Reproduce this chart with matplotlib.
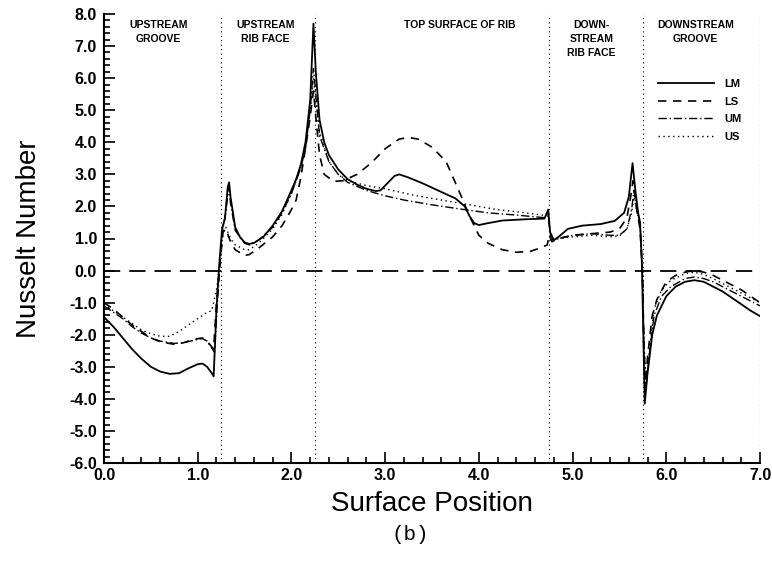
import matplotlib
matplotlib.use("Agg")
import matplotlib.pyplot as plt
from matplotlib.ticker import MultipleLocator, FormatStrFormatter

plt.rcParams['font.family'] = ['Liberation Sans', 'DejaVu Sans']
plt.rcParams['axes.unicode_minus'] = False

# Region boundaries and labels
boundaries = [1.25, 2.25, 4.75, 5.75, 7.0]
region_names = ["UPSTREAM\nGROOVE", "UPSTREAM\nRIB FACE", "TOP SURFACE OF RIB",
                "DOWN-\nSTREAM\nRIB FACE", "DOWNSTREAM\nGROOVE"]
region_centres = [0.58, 1.72, 3.8, 5.2, 6.31]

# LM (solid)
lm_x = [0.0, 0.1, 0.2, 0.3, 0.4, 0.5, 0.6, 0.7, 0.8, 0.9, 1.0, 1.05, 1.1, 1.15, 1.17,
        1.2, 1.23, 1.26, 1.29, 1.32, 1.335, 1.35, 1.4, 1.45, 1.5, 1.55, 1.6, 1.7, 1.8,
        1.9, 2.0, 2.05, 2.1, 2.15, 2.2, 2.235, 2.26, 2.3, 2.35, 2.4, 2.5, 2.6, 2.7, 2.8,
        2.9, 2.95, 3.0, 3.1, 3.15, 3.25, 3.4, 3.6, 3.75, 3.85, 3.9, 3.95, 4.0, 4.1, 4.25,
        4.5, 4.7, 4.74, 4.76, 4.8, 4.85, 4.95, 5.1, 5.3, 5.45, 5.55, 5.6, 5.64, 5.67,
        5.7, 5.72, 5.74, 5.755, 5.77, 5.8, 5.85, 5.9, 6.0, 6.1, 6.2, 6.3, 6.4, 6.5, 6.6,
        6.7, 6.8, 6.9, 7.0]
lm_y = [-1.45, -1.75, -2.1, -2.45, -2.75, -3.0, -3.15, -3.22, -3.2, -3.05, -2.92, -2.9,
        -3.0, -3.2, -3.3, -1.2, 0.2, 1.3, 1.6, 2.6, 2.75, 2.3, 1.35, 1.05, 0.88, 0.83,
        0.86, 1.05, 1.4, 1.85, 2.5, 2.85, 3.3, 4.0, 5.3, 7.7, 6.2, 4.7, 4.0, 3.6, 3.15,
        2.85, 2.68, 2.55, 2.48, 2.5, 2.65, 2.95, 3.0, 2.9, 2.72, 2.45, 2.25, 2.0, 1.7,
        1.48, 1.42, 1.48, 1.56, 1.6, 1.62, 1.9, 1.2, 0.95, 1.05, 1.3, 1.4, 1.45, 1.55,
        1.8, 2.3, 3.35, 2.5, 1.8, 1.5, 0.2, -2.0, -4.15, -3.2, -2.0, -1.4, -0.8, -0.5,
        -0.35, -0.3, -0.35, -0.5, -0.65, -0.85, -1.05, -1.25, -1.42]

# LS (dashed)
ls_x = [0.0, 0.1, 0.2, 0.3, 0.4, 0.5, 0.6, 0.75, 0.85, 0.95, 1.05, 1.1, 1.17, 1.2, 1.24,
        1.27, 1.3, 1.35, 1.4, 1.5, 1.55, 1.65, 1.8, 1.9, 2.0, 2.05, 2.1, 2.16, 2.2, 2.235,
        2.26, 2.3, 2.35, 2.45, 2.55, 2.7, 2.85, 3.0, 3.15, 3.25, 3.35, 3.5, 3.65, 3.8,
        3.9, 4.0, 4.1, 4.25, 4.4, 4.55, 4.65, 4.73, 4.75, 4.78, 4.85, 5.0, 5.2, 5.4, 5.5,
        5.58, 5.62, 5.645, 5.68, 5.72, 5.745, 5.76, 5.775, 5.8, 5.85, 5.9, 6.0, 6.1, 6.2,
        6.3, 6.4, 6.5, 6.6, 6.7, 6.8, 6.9, 7.0]
ls_y = [-1.0, -1.2, -1.45, -1.7, -1.9, -2.1, -2.22, -2.3, -2.25, -2.15, -2.1, -2.2, -2.45,
        -1.0, 0.3, 1.2, 1.3, 0.9, 0.65, 0.47, 0.5, 0.7, 1.05, 1.4, 1.9, 2.2, 2.9, 4.0,
        4.8, 5.6, 4.8, 3.6, 3.0, 2.78, 2.8, 3.0, 3.35, 3.8, 4.1, 4.15, 4.1, 3.85, 3.4,
        2.4, 1.7, 1.1, 0.85, 0.65, 0.57, 0.6, 0.7, 0.8, 1.1, 0.9, 1.0, 1.1, 1.15, 1.2,
        1.3, 1.65, 2.3, 2.8, 2.0, 1.3, 0.0, -2.5, -3.7, -2.7, -1.4, -0.9, -0.35, -0.15,
        -0.05, 0.0, -0.05, -0.15, -0.3, -0.45, -0.6, -0.8, -1.0]

# UM (dash-dot)
um_x = [0.0, 0.1, 0.2, 0.3, 0.4, 0.5, 0.6, 0.75, 0.85, 0.95, 1.05, 1.1, 1.18, 1.21, 1.24,
        1.27, 1.3, 1.33, 1.35, 1.4, 1.5, 1.55, 1.65, 1.8, 1.9, 2.0, 2.1, 2.15, 2.2, 2.235,
        2.26, 2.3, 2.4, 2.5, 2.6, 2.8, 3.0, 3.2, 3.5, 3.8, 4.1, 4.4, 4.7, 4.74, 4.77,
        4.85, 5.0, 5.2, 5.4, 5.5, 5.58, 5.63, 5.655, 5.69, 5.72, 5.745, 5.765, 5.785,
        5.82, 5.87, 5.95, 6.05, 6.2, 6.3, 6.4, 6.5, 6.6, 6.7, 6.8, 6.9, 7.0]
um_y = [-1.1, -1.3, -1.5, -1.75, -1.95, -2.1, -2.2, -2.27, -2.25, -2.18, -2.12, -2.2,
        -2.55, -1.0, 0.3, 1.4, 1.8, 2.6, 2.1, 1.25, 0.85, 0.8, 0.95, 1.35, 1.8, 2.4, 3.2,
        3.8, 5.0, 6.3, 5.5, 4.2, 3.4, 3.0, 2.75, 2.5, 2.33, 2.2, 2.05, 1.92, 1.8, 1.73,
        1.65, 1.7, 0.95, 1.0, 1.1, 1.15, 1.1, 1.1, 1.3, 1.9, 2.5, 1.8, 1.4, 0.0, -2.5,
        -3.6, -2.6, -1.4, -0.8, -0.5, -0.25, -0.2, -0.25, -0.35, -0.5, -0.65, -0.8,
        -0.95, -1.1]

# US (dotted)
us_x = [0.0, 0.1, 0.2, 0.3, 0.4, 0.5, 0.6, 0.7, 0.8, 0.9, 1.0, 1.1, 1.15, 1.2, 1.24,
        1.27, 1.3, 1.35, 1.4, 1.5, 1.55, 1.65, 1.8, 1.9, 2.0, 2.1, 2.15, 2.2, 2.235, 2.26,
        2.3, 2.4, 2.5, 2.6, 2.8, 3.0, 3.3, 3.6, 3.9, 4.2, 4.5, 4.7, 4.74, 4.77, 4.85,
        5.0, 5.2, 5.4, 5.5, 5.58, 5.63, 5.655, 5.69, 5.72, 5.745, 5.765, 5.785, 5.82,
        5.87, 5.95, 6.05, 6.2, 6.3, 6.4, 6.5, 6.6, 6.7, 6.8, 6.9, 7.0]
us_y = [-1.05, -1.25, -1.45, -1.65, -1.85, -1.97, -2.05, -2.05, -1.9, -1.7, -1.5, -1.3,
        -1.25, -0.6, 0.3, 1.2, 1.35, 1.0, 0.8, 0.65, 0.65, 0.85, 1.3, 1.75, 2.4, 3.2,
        3.9, 5.0, 6.0, 5.3, 4.3, 3.4, 3.0, 2.8, 2.65, 2.55, 2.35, 2.2, 2.05, 1.9, 1.8,
        1.72, 1.75, 0.95, 1.0, 1.05, 1.1, 1.05, 1.08, 1.3, 1.8, 2.3, 1.8, 1.5, 0.0,
        -2.5, -3.5, -2.5, -1.2, -0.6, -0.3, -0.1, -0.05, -0.12, -0.25, -0.4, -0.55,
        -0.7, -0.85, -1.0]

fig = plt.figure(figsize=(7.72, 5.68), dpi=100)
ax = fig.add_axes([104 / 772, 1 - 463 / 568, (760 - 104) / 772, (463 - 14) / 568])

ax.plot(lm_x, lm_y, color='black', lw=1.3, ls='-', label='LM')
ax.plot(ls_x, ls_y, color='black', lw=1.2, ls=(0, (5, 4)), label='LS')
ax.plot(um_x, um_y, color='black', lw=1.0, ls=(0, (6, 2, 1, 2)), label='UM')
ax.plot(us_x, us_y, color='black', lw=1.0, ls=(0, (1, 2.5)), label='US')

# zero line and region boundaries
ax.axhline(0, color='black', lw=1.3, ls=(0, (9, 5)))
for b in boundaries:
    ax.axvline(b, color='black', lw=0.8, ls=(0, (1, 3)))

for xc, name in zip(region_centres, region_names):
    ax.text(xc, 7.8, name, ha='center', va='top', fontsize=7.5, fontweight='bold',
            linespacing=1.45)

ax.set_xlim(0, 7.0)
ax.set_ylim(-6.0, 8.0)
ax.xaxis.set_major_locator(MultipleLocator(1.0))
ax.xaxis.set_minor_locator(MultipleLocator(0.2))
ax.yaxis.set_major_locator(MultipleLocator(1.0))
ax.yaxis.set_minor_locator(MultipleLocator(0.2))
ax.xaxis.set_major_formatter(FormatStrFormatter('%.1f'))
ax.yaxis.set_major_formatter(FormatStrFormatter('%.1f'))
ax.tick_params(which='both', direction='in', width=1.2)
ax.tick_params(which='major', length=8, labelsize=11.5)
ax.tick_params(which='minor', length=4)
ax.tick_params(axis='y', pad=5)
for lab in ax.get_xticklabels() + ax.get_yticklabels():
    lab.set_fontweight('bold')

for s in ['top', 'right']:
    ax.spines[s].set_visible(False)
for s in ['left', 'bottom']:
    ax.spines[s].set_linewidth(1.5)

ax.set_xlabel('Surface Position', fontsize=20, labelpad=6)
ax.set_ylabel('Nusselt Number', fontsize=20, labelpad=20)

leg = ax.legend(loc='upper left', bbox_to_anchor=(0.83, 0.878), frameon=False,
                handlelength=5.0, handletextpad=0.9, labelspacing=0.7,
                prop={'size': 8, 'weight': 'bold'})

fig.text(410 / 772, 1 - 535 / 568, '(b)', ha='center', va='center', fontsize=15,
         family=['Liberation Mono', 'DejaVu Sans Mono'])

fig.savefig('out.png', dpi=100)
